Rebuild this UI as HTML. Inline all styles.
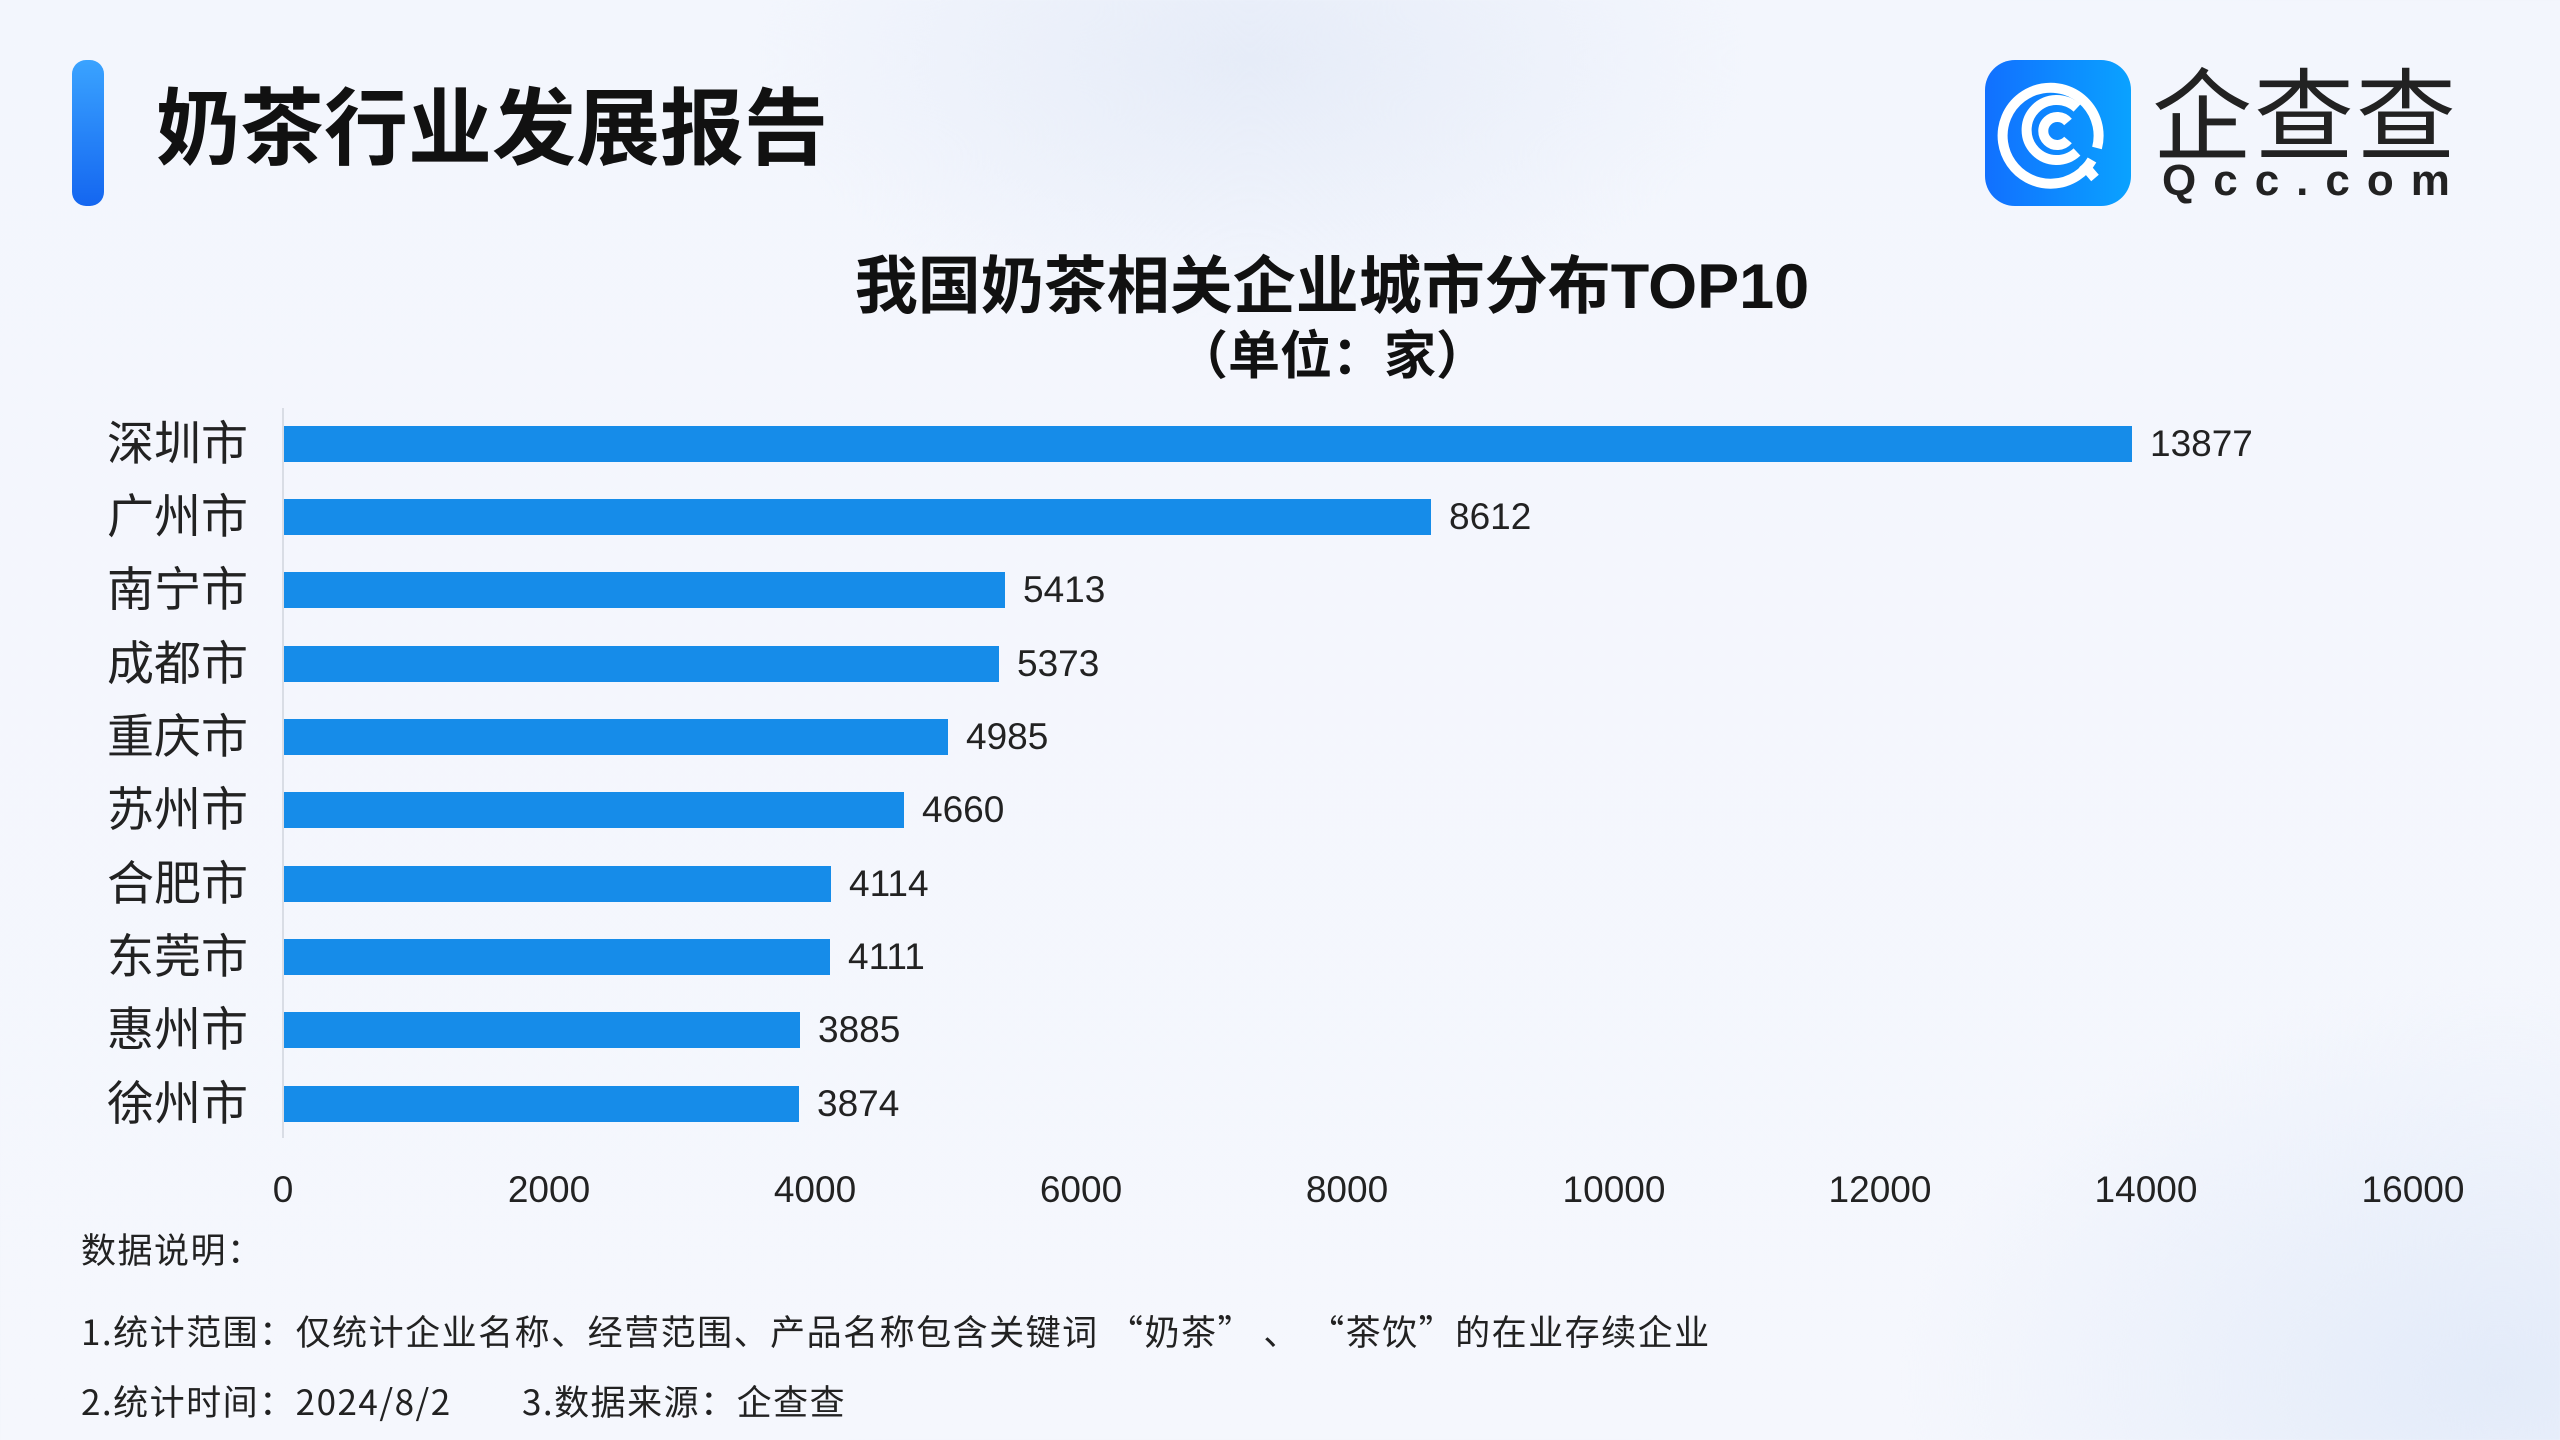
<!DOCTYPE html>
<html><head><meta charset="utf-8"><style>
body{margin:0;width:2560px;height:1440px;overflow:hidden;font-family:"Liberation Sans","Noto Sans CJK SC",sans-serif;color:#1f1f1f;
background:radial-gradient(ellipse 500px 260px at 1250px 60px,#e6ecf8 0%,rgba(230,236,248,0) 100%),radial-gradient(ellipse 600px 400px at 2500px 1380px,#e3ebf9 0%,rgba(227,235,249,0) 100%),linear-gradient(180deg,#f3f6fd,#f5f7fd);position:relative}
.a{position:absolute;white-space:nowrap}
.bar{position:absolute;left:284px;height:36px;background:#168ce9}
.cat{position:absolute;right:2312px;font-size:47px;line-height:60px;color:#222}
.val{position:absolute;font-size:37px;line-height:50px;color:#222}
.tk{position:absolute;top:1165px;font-size:37px;line-height:50px;color:#222;transform:translateX(-50%)}
.n{font-family:"Noto Sans CJK SC",sans-serif;font-size:35px;line-height:46px;color:#222;letter-spacing:1.5px}
</style></head><body>
<div class="a" style="left:72px;top:60px;width:32px;height:146px;border-radius:14px;background:linear-gradient(180deg,#3aa3ff,#1466f0)"></div>
<div class="a" style="left:156px;top:74px;font-size:84px;font-weight:bold;line-height:110px;color:#111">奶茶行业发展报告</div>
<div class="a" style="left:1985px;top:60px;width:146px;height:146px;border-radius:30px;background:linear-gradient(90deg,#1170ff,#0aa2ff)">
<svg width="146" height="146" viewBox="0 0 146 146"><g fill="none" stroke="#fff" stroke-width="10" stroke-linecap="butt">
<path d="M107 100 A48 48 0 1 1 112 88"/><path d="M92 92 A30 30 0 1 1 92 48"/><path d="M83 80 A14 14 0 1 1 83 62"/><path d="M98 104 L110 118"/></g></svg></div>
<div class="a" style="left:2152px;top:58px;font-size:100px;line-height:120px;color:#222;letter-spacing:2px">企查查</div>
<div class="a" style="left:2162px;top:154px;font-size:44px;line-height:54px;color:#222;letter-spacing:17px;font-weight:bold">Qcc.com</div>
<div class="a" style="left:0;width:2664px;text-align:center;top:247px;font-size:63px;font-weight:bold;line-height:80px;color:#111">我国奶茶相关企业城市分布TOP10</div>
<div class="a" style="left:0;width:2664px;text-align:center;top:322px;font-size:52px;font-weight:bold;line-height:70px;color:#111">（单位：家）</div>
<div class="a" style="left:282px;top:408px;width:2px;height:730px;background:#d9dde5"></div>
<div class="bar" style="top:426px;width:1848px"></div><div class="cat" style="top:414px">深圳市</div><div class="val" style="left:2150px;top:419px">13877</div>
<div class="bar" style="top:499px;width:1147px"></div><div class="cat" style="top:487px">广州市</div><div class="val" style="left:1449px;top:492px">8612</div>
<div class="bar" style="top:572px;width:721px"></div><div class="cat" style="top:560px">南宁市</div><div class="val" style="left:1023px;top:565px">5413</div>
<div class="bar" style="top:646px;width:715px"></div><div class="cat" style="top:634px">成都市</div><div class="val" style="left:1017px;top:639px">5373</div>
<div class="bar" style="top:719px;width:664px"></div><div class="cat" style="top:707px">重庆市</div><div class="val" style="left:966px;top:712px">4985</div>
<div class="bar" style="top:792px;width:620px"></div><div class="cat" style="top:780px">苏州市</div><div class="val" style="left:922px;top:785px">4660</div>
<div class="bar" style="top:866px;width:547px"></div><div class="cat" style="top:854px">合肥市</div><div class="val" style="left:849px;top:859px">4114</div>
<div class="bar" style="top:939px;width:546px"></div><div class="cat" style="top:927px">东莞市</div><div class="val" style="left:848px;top:932px">4111</div>
<div class="bar" style="top:1012px;width:516px"></div><div class="cat" style="top:1000px">惠州市</div><div class="val" style="left:818px;top:1005px">3885</div>
<div class="bar" style="top:1086px;width:515px"></div><div class="cat" style="top:1074px">徐州市</div><div class="val" style="left:817px;top:1079px">3874</div>
<div class="tk" style="left:283px">0</div><div class="tk" style="left:549px">2000</div><div class="tk" style="left:815px">4000</div><div class="tk" style="left:1081px">6000</div><div class="tk" style="left:1347px">8000</div><div class="tk" style="left:1614px">10000</div><div class="tk" style="left:1880px">12000</div><div class="tk" style="left:2146px">14000</div><div class="tk" style="left:2413px">16000</div>
<div class="a n" style="left:81px;top:1226px">数据说明：</div>
<div class="a n" style="left:81px;top:1308px">1.统计范围：仅统计企业名称、经营范围、产品名称包含关键词 “奶茶” 、 “茶饮”的在业存续企业</div>
<div class="a n" style="left:81px;top:1378px">2.统计时间：2024/8/2</div>
<div class="a n" style="left:522px;top:1378px">3.数据来源：企查查</div>
</body></html>
